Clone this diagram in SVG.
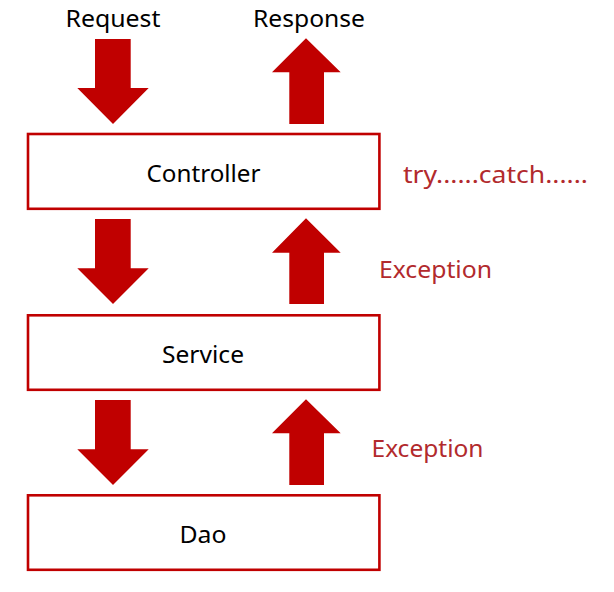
<svg xmlns="http://www.w3.org/2000/svg" width="614" height="592" viewBox="0 0 614 592">
<style>
.box{fill:#FFFFFF;stroke:#C00000;stroke-width:2.6}
.arr{fill:#C00000}
.t{font-family:"Noto Sans","Open Sans","DejaVu Sans",sans-serif;font-size:23px;fill:#000000;text-anchor:middle}
.r{font-family:"Noto Sans","Open Sans","DejaVu Sans",sans-serif;font-size:23px;fill:#B22A2D}
</style>
<rect width="614" height="592" fill="#FFFFFF"/>
<g id="connectors">
<polygon class="arr" points="95,39 130.7,39 130.7,88 148.7,88 113,124 77.3,88 95,88"/>
<polygon class="arr" points="95,219 130.7,219 130.7,268.3 148.7,268.3 113,304 77.3,268.3 95,268.3"/>
<polygon class="arr" points="95,400 130.7,400 130.7,449.3 148.7,449.3 113,485 77.3,449.3 95,449.3"/>
<polygon class="arr" points="306,38.3 340.7,72.3 324,72.3 324,124 289.3,124 289.3,72.3 272,72.3"/>
<polygon class="arr" points="306,218.3 340.7,252.7 324,252.7 324,304 289.3,304 289.3,252.7 272,252.7"/>
<polygon class="arr" points="306,399.3 340.7,433.3 324,433.3 324,485 289.3,485 289.3,433.3 272,433.3"/>
</g>
<g id="request"><text class="t" x="113" y="27" textLength="95" lengthAdjust="spacingAndGlyphs">Request</text></g>
<g id="response"><text class="t" x="309" y="27" textLength="112" lengthAdjust="spacingAndGlyphs">Response</text></g>
<g id="controller">
<rect class="box" x="28" y="134" width="351.4" height="74.8"/>
<text class="t" x="203.5" y="181.7" textLength="114" lengthAdjust="spacingAndGlyphs">Controller</text>
</g>
<g id="service">
<rect class="box" x="28" y="315.3" width="351.4" height="74.5"/>
<text class="t" x="203" y="362.7" textLength="82" lengthAdjust="spacingAndGlyphs">Service</text>
</g>
<g id="dao">
<rect class="box" x="28" y="495.3" width="351.4" height="74.5"/>
<text class="t" x="203" y="543.3" textLength="47" lengthAdjust="spacingAndGlyphs">Dao</text>
</g>
<g id="try-catch"><text class="r" x="403" y="183.3" textLength="185" lengthAdjust="spacingAndGlyphs">try......catch......</text></g>
<g id="exception-1"><text class="r" x="379" y="278.3" textLength="113" lengthAdjust="spacingAndGlyphs">Exception</text></g>
<g id="exception-2"><text class="r" x="371.5" y="457.3" textLength="112" lengthAdjust="spacingAndGlyphs">Exception</text></g>
</svg>
